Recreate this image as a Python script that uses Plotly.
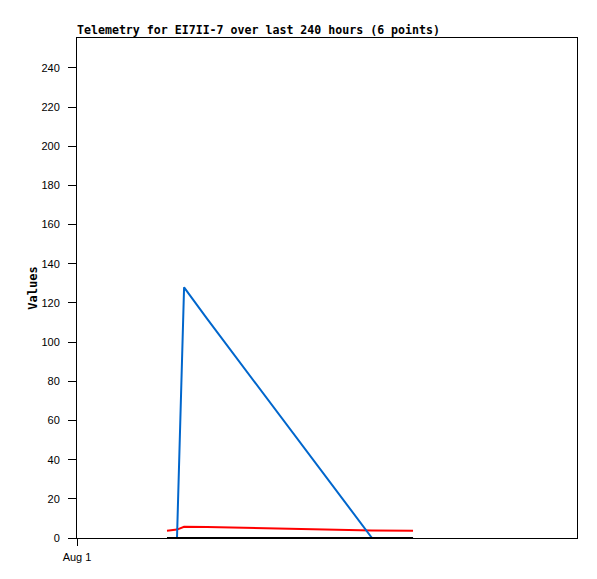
import plotly.graph_objects as go

times = ["2024-08-02 19:12", "2024-08-03 00:00", "2024-08-03 03:24",
         "2024-08-03 14:24", "2024-08-06 21:36", "2024-08-07 17:18"]
red_vals = [3.7, 4.3, 5.7, 5.6, 3.8, 3.7]
blue_vals = [0, 0, 128, 112, 0, 0]
black_vals = [0, 0, 0, 0, 0, 0]

x_range = ["2024-08-01 00:00", "2024-08-11 00:00"]
x_tickvals = ["2024-08-01 00:00"]
x_ticktext = ["Aug 1"]
y_tickvals = list(range(0, 241, 20))

fig = go.Figure()
fig.add_trace(go.Scatter(x=times, y=red_vals, mode="lines",
                         line=dict(color="#ff0000", width=2), showlegend=False))
fig.add_trace(go.Scatter(x=times, y=blue_vals, mode="lines",
                         line=dict(color="#0066cc", width=2), showlegend=False))
fig.add_trace(go.Scatter(x=times, y=black_vals, mode="lines",
                         line=dict(color="#000000", width=2), showlegend=False))

fig.update_layout(
    width=597, height=579,
    margin=dict(l=69, r=28, t=30, b=49),
    paper_bgcolor="white", plot_bgcolor="white",
    title=dict(text="<b>Telemetry for EI7II-7 over last 240 hours (6 points)</b>",
               x=0, xanchor="left", xref="paper",
               y=1-21.5/579, yanchor="middle", yref="container",
               font=dict(family="DejaVu Sans Mono", size=11.6, color="black")),
    font=dict(family="Liberation Sans", size=11, color="black"),
)
fig.update_xaxes(type="date", range=x_range, tickvals=x_tickvals, ticktext=x_ticktext,
                 showgrid=False, zeroline=False, showline=True, linecolor="black",
                 linewidth=1, mirror=True, ticks="outside", ticklen=7,
                 tickcolor="black", ticklabelstandoff=2,
                 tickfont=dict(family="Liberation Sans", size=11))
fig.update_yaxes(range=[0, 255.3], tickvals=y_tickvals,
                 showgrid=False, zeroline=False, showline=True, linecolor="black",
                 linewidth=1, mirror=True, ticks="outside", ticklen=8,
                 tickcolor="black", ticklabelstandoff=6,
                 tickfont=dict(family="Liberation Sans", size=11),
                 title=dict(text="<b>Values</b>", standoff=1,
                            font=dict(family="DejaVu Sans Mono", size=12)))

fig.write_html("out.html")
